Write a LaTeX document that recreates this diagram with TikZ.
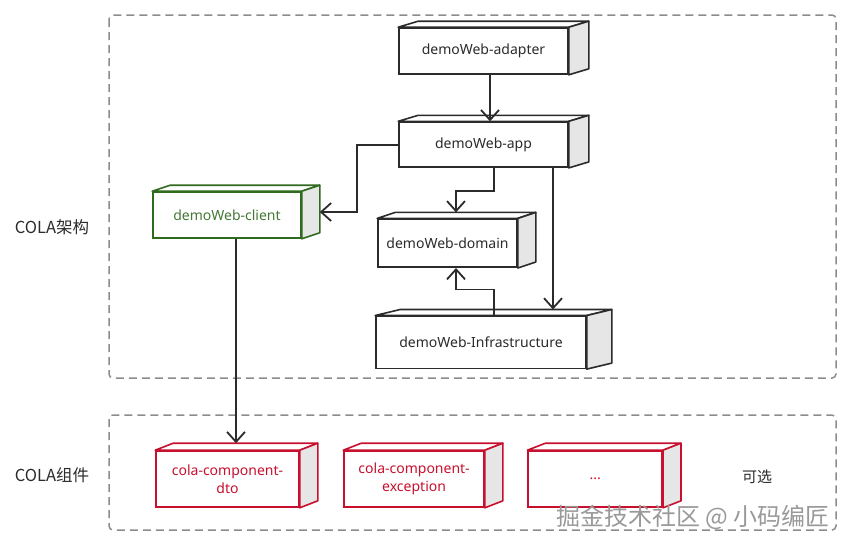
\documentclass[tikz,border=0pt]{standalone}
\usepackage{fontspec}
\setmainfont{Noto Sans}
\newfontfamily\cjk{Noto Sans CJK SC}
\usetikzlibrary{arrows.meta,positioning,calc}
\definecolor{inkgray}{HTML}{2B2B2B}
\definecolor{sidegray}{HTML}{E6E6E6}
\definecolor{dashgray}{HTML}{8C8C8C}
\definecolor{cligreen}{HTML}{2F6A1F}
\definecolor{compred}{HTML}{C8102E}
\tikzset{
  box/.style   = {draw=inkgray, line width=1.6pt, fill=white, align=center,
                  inner sep=3pt, text=inkgray, font=\fontsize{14}{18.5}\selectfont},
  boxc/.style  = {box, draw=cligreen, text=cligreen!90!white},
  boxr/.style  = {box, draw=compred, text=compred},
  face/.style  = {line width=1.6pt, line join=round, fill=white},
  lab/.style   = {font=\cjk\fontsize{16.5}{18}\selectfont, text=inkgray},
  wmark/.style = {font=\cjk\fontsize{24}{26}\selectfont, text=black!40},
  frame/.style = {draw=dashgray, line width=1.5pt, dash pattern=on 8pt off 5pt, rounded corners=4pt},
  arr/.style   = {-{Straight Barb[length=10pt,width=18pt]}, draw=inkgray, line width=1.8pt},
}
\begin{document}
\begin{tikzpicture}[x=1pt, y=-1pt]
  \useasboundingbox (0,0) rectangle (854,549);
  % dashed frames and their labels
  \draw[frame] (109,15) rectangle (836,378);
  \draw[frame] (109,415) rectangle (836,530);
  \node[lab] (archlab) at (52,227) {COLA架构};
  \node[lab] (complab) at (52,475) {COLA组件};
  % COLA modules
  \node[box, minimum width=169pt, minimum height=46pt] (adapter) at (483.5,51) {demoWeb-adapter};
  \node[box, minimum width=169pt, minimum height=45pt, below=46.5pt of adapter] (app) {demoWeb-app};
  \node[box, minimum width=139pt, minimum height=48pt, below=50.5pt of app, xshift=-36pt] (domain) {demoWeb-domain};
  \node[box, minimum width=210pt, minimum height=52pt, below=47.5pt of domain, xshift=33.5pt] (infra) {demoWeb-Infrastructure};
  \node[boxc, minimum width=148pt, minimum height=46pt] (client) at (227,215) {demoWeb-client};
  % components
  \node[boxr, minimum width=143pt, minimum height=56pt] (dto) at (227.5,479) {cola-component-\\dto};
  \node[boxr, minimum width=140pt, minimum height=56pt, right=43.5pt of dto] (exc) {cola-component-\\exception};
  \node[boxr, minimum width=134pt, minimum height=56pt, right=42.5pt of exc] (more) {...};
  \node[lab, font=\cjk\fontsize{15}{16}\selectfont] (opt) at (757,477) {可选};
  % top and side faces
  \foreach \n/\c/\d/\h in {adapter/inkgray/20/6, app/inkgray/20/6, client/cligreen/18/6,
      domain/inkgray/18/6, infra/inkgray/25/6, dto/compred/18/7, exc/compred/18/7, more/compred/18/7}{
    \draw[face, draw=\c] (\n.north west) -- ++(\d,-\h) -- ($(\n.north east)+(\d,-\h)$) -- (\n.north east) -- cycle;
    \draw[face, draw=\c, fill=sidegray] (\n.north east) -- ++(\d,-\h) -- ($(\n.south east)+(\d,-\h)$) -- (\n.south east) -- cycle;
  }
  % dependencies
  \coordinate (cliside) at ($(client.east)+(18,-3)$);
  \coordinate (infratop) at ([yshift=6pt]infra.north);
  \draw[arr] ([xshift=6.5pt]adapter.south) -- ([xshift=6.5pt]app.north);
  \draw[arr] (app.west) -- ++(-41pt,0) |- (cliside);
  \draw[arr] ([xshift=10.5pt]app.south) -- ++(0,23) -| ([xshift=8.5pt,yshift=6pt]domain.north);
  \draw[arr] ([xshift=69.5pt]app.south) -- ([xshift=69.5pt]app.south |- infratop);
  \draw[arr] ([xshift=13pt]infra.north) -- ++(0,-26) -| ([xshift=8.5pt]domain.south);
  \draw[arr] ([xshift=9pt]client.south) -- ([xshift=8.5pt,yshift=7pt]dto.north);
  % watermark
  \node[wmark] (wm) at (693,517) {掘金技术社区 @ 小码编匠};
\end{tikzpicture}
\end{document}
